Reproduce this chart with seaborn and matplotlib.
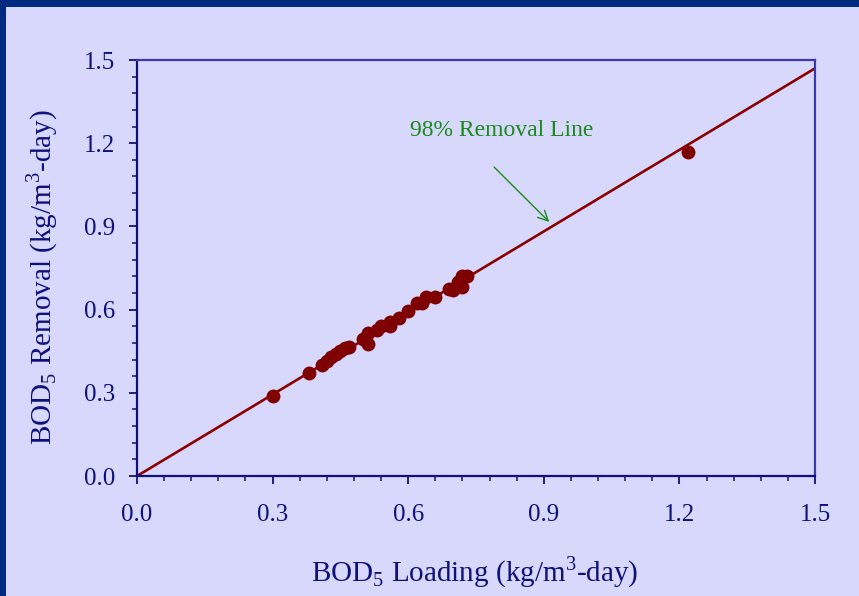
import numpy as np
import pandas as pd
import matplotlib
matplotlib.use("Agg")
import matplotlib.pyplot as plt
from matplotlib.patches import Rectangle
from matplotlib.ticker import MultipleLocator, FormatStrFormatter
import seaborn as sns

# BOD5 loading vs. removal observations (kg/m^3-day)
loading = [0.30, 0.38, 0.41, 0.42, 0.43, 0.44, 0.45, 0.46, 0.47, 0.50, 0.51,
           0.51, 0.53, 0.54, 0.56, 0.56, 0.58, 0.60, 0.62, 0.63, 0.64, 0.66,
           0.69, 0.70, 0.71, 0.72, 0.72, 0.73, 1.22]
removal = [0.29, 0.37, 0.40, 0.415, 0.43, 0.44, 0.45, 0.46, 0.465, 0.495, 0.475,
           0.515, 0.525, 0.54, 0.54, 0.555, 0.57, 0.595, 0.625, 0.625, 0.645, 0.645,
           0.675, 0.67, 0.70, 0.68, 0.72, 0.72, 1.17]

# 98 % removal reference line
line_x = [0.0, 1.5]
removal_fraction = 0.98
line_y = [v * removal_fraction for v in line_x]

ticks = [0.0, 0.3, 0.6, 0.9, 1.2, 1.5]

navy = "#10107a"
spine_blue = "#3a3aa8"
bg = "#d8d8fd"
maroon = "#7e0000"
green = "#1a8a1a"

sns.set_theme(style="white")
plt.rcParams["font.family"] = ["Liberation Serif", "DejaVu Serif"]
plt.rcParams["mathtext.fontset"] = "custom"
plt.rcParams["mathtext.rm"] = "Liberation Serif"

fig = plt.figure(figsize=(8.59, 5.96), dpi=100, facecolor=bg)
ax = fig.add_axes([0.1595, 0.2013, 0.9488 - 0.1595, 0.8993 - 0.2013])
ax.set_facecolor(bg)

# dark frame strips along the top and left edges of the slide
fig.patches.append(Rectangle((0, 0), 6 / 859, 1, transform=fig.transFigure,
                             facecolor="#002a80", edgecolor="none", zorder=0))
fig.patches.append(Rectangle((0, 1 - 7 / 596), 1, 7 / 596, transform=fig.transFigure,
                             facecolor="#002a80", edgecolor="none", zorder=0))

df_line = pd.DataFrame({"x": line_x, "y": line_y})
sns.lineplot(data=df_line, x="x", y="y", ax=ax, color="#8b0000", linewidth=1.9, zorder=2)

df = pd.DataFrame({"loading": loading, "removal": removal})
sns.scatterplot(data=df, x="loading", y="removal", ax=ax, color=maroon,
                s=100, edgecolor=maroon, linewidth=0, zorder=3, clip_on=False)

ax.set_xlim(0, 1.5)
ax.set_ylim(0, 1.5)
ax.set_xticks(ticks)
ax.set_yticks(ticks)
ax.xaxis.set_minor_locator(MultipleLocator(0.06))
ax.yaxis.set_minor_locator(MultipleLocator(0.06))
ax.xaxis.set_major_formatter(FormatStrFormatter("%.1f"))
ax.yaxis.set_major_formatter(FormatStrFormatter("%.1f"))

ax.tick_params(axis="both", which="major", direction="out", length=6, width=1.3,
               color=navy, labelcolor=navy, labelsize=18,
               bottom=True, left=True, top=False, right=False)
ax.tick_params(axis="x", which="major", pad=14)
ax.tick_params(axis="y", which="major", pad=10)
ax.tick_params(axis="both", which="minor", direction="out", length=3.5, width=1.1,
               color=navy, bottom=True, left=True, top=False, right=False)

for side in ["left", "bottom"]:
    ax.spines[side].set_color(navy)
    ax.spines[side].set_linewidth(1.6)
for side in ["top", "right"]:
    ax.spines[side].set_color(spine_blue)
    ax.spines[side].set_linewidth(1.6)

ax.set_xlabel(r"BOD$_5$ Loading (kg/m$^3$-day)", color=navy, fontsize=21)
ax.set_ylabel(r"BOD$_5$ Removal (kg/m$^3$-day)", color=navy, fontsize=21)
ax.xaxis.label.set_va("center")
ax.yaxis.label.set_va("center")
ax.xaxis.set_label_coords(0.4985, -0.231)
ax.yaxis.set_label_coords(-0.140, 0.478)

ax.annotate("98% Removal Line", xy=(0.912, 0.916), xytext=(0.605, 1.245),
            color=green, fontsize=17, ha="left", va="center", zorder=4)
ax.annotate("", xy=(0.912, 0.916), xytext=(0.79, 1.114),
            arrowprops=dict(arrowstyle="->", color=green, lw=1.0,
                            mutation_scale=18, shrinkA=0, shrinkB=0), zorder=4)

fig.savefig("out.png", dpi=100, facecolor=bg)
